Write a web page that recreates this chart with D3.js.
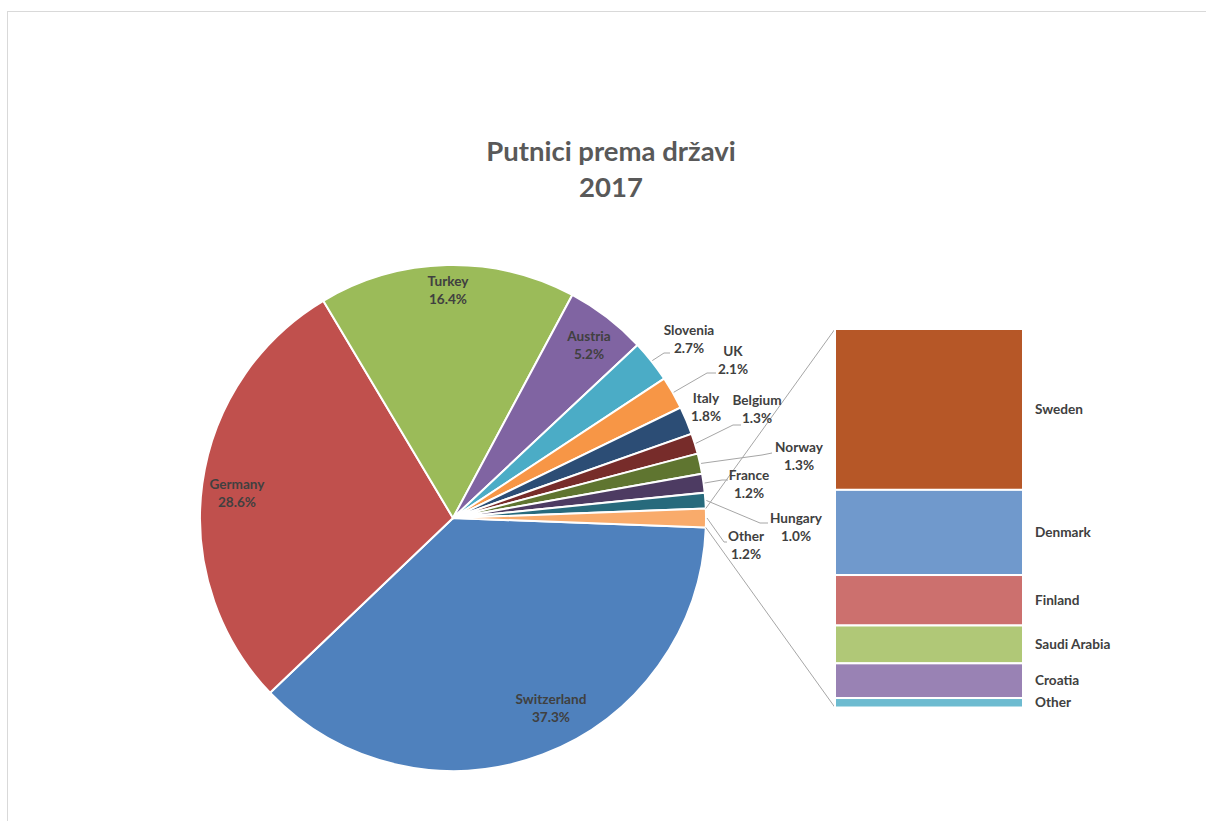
<!DOCTYPE html>
<html>
<head>
<meta charset="utf-8">
<script src="https://cdn.jsdelivr.net/npm/d3@7"></script>
<style>
  body { margin: 0; background: #fff; }
  text { font-family: Lato, "Open Sans", sans-serif; font-weight: bold; }
</style>
</head>
<body>
<div id="chart"></div>
<script>
// Data
const countries = ['Switzerland', 'Germany', 'Turkey', 'Austria', 'Slovenia', 'UK', 'Italy', 'Belgium', 'Norway', 'France', 'Hungary', 'Other']
const shares = [37.3, 28.6, 16.4, 5.2, 2.7, 2.1, 1.8, 1.3, 1.3, 1.2, 1.0, 1.2]
const pieColors = ['#4F81BD', '#C0504D', '#9BBB59', '#8064A2', '#4BACC6', '#F79646',
  '#2C4D75', '#772C2A', '#5F7530', '#4D3B62', '#276A7C', '#F9AB6B']

const otherCountries = ['Sweden', 'Denmark', 'Finland', 'Saudi Arabia', 'Croatia', 'Other']
const otherShares = [0.51, 0.27, 0.16, 0.12, 0.11, 0.03]
const barColors = ['#B65727', '#7099CC', '#CC706E', '#B0C877', '#9982B4', '#6DBBD0']

const titleLines = ['Putnici prema državi', '2017']

// Dimensions
const dimensions = {
  width: 1206,
  height: 821,
  cx: 453,
  cy: 518,
  r: 253,
  barX: 835,
  barW: 188,
  barTop: 329,
  barBottom: 707.5
}

// label anchors (center of the two-line block), layout only
const labelPos = {
  Switzerland: [551, 710], Germany: [237, 495], Turkey: [448, 292], Austria: [589, 347],
  Slovenia: [689, 341], UK: [733, 362], Italy: [706, 409], Belgium: [757, 411],
  Norway: [799, 458], France: [749, 486], Hungary: [796, 529], Other: [746, 547]
}
// where leader lines end, layout only
const leaderEnd = {
  Slovenia: [[664, 353], [670, 353]],
  UK: [[707, 373], [716, 373]],
  Belgium: [[733, 425], [741, 425]],
  Norway: [[762, 455], [772, 453]],
  France: [[722, 480], [728, 480]],
  Hungary: [[760, 523], [768, 523]],
  Other: [[724, 542], [727, 542]]
}

const svg = d3.select('#chart')
  .append('svg')
  .attr('width', dimensions.width)
  .attr('height', dimensions.height)

// chart area border
svg.append('rect')
  .attr('x', 7.5).attr('y', 11.5)
  .attr('width', 1220).attr('height', 830)
  .attr('fill', '#fff')
  .attr('stroke', '#d9d9d9')

// title
svg.append('text')
  .attr('x', 611)
  .attr('text-anchor', 'middle')
  .attr('fill', '#595959')
  .style('font-size', '27.5px')
  .selectAll('tspan')
  .data(titleLines)
  .join('tspan')
  .attr('x', 611)
  .attr('y', (d, i) => 161 + i * 36)
  .text(d => d)

// Pie: secondary ("Other") slice centered on the right horizontal
const total = d3.sum(shares)
const otherAngle = shares[shares.length - 1] / total * 2 * Math.PI
const start = Math.PI / 2 + otherAngle / 2

const pie = d3.pie().sort(null).startAngle(start).endAngle(start + 2 * Math.PI)
const arcs = pie(shares)
const arc = d3.arc().innerRadius(0).outerRadius(dimensions.r)

const ctr = svg.append('g')
  .attr('transform', `translate(${dimensions.cx}, ${dimensions.cy})`)

ctr.selectAll('path')
  .data(arcs)
  .join('path')
  .attr('d', arc)
  .attr('fill', (d, i) => pieColors[i])
  .attr('stroke', '#fff')
  .attr('stroke-width', 2)

const polar = (a, rr) => [dimensions.cx + rr * Math.sin(a), dimensions.cy - rr * Math.cos(a)]

// leader lines
const leaders = svg.append('g')
  .attr('fill', 'none')
  .attr('stroke', '#a6a6a6')
  .attr('stroke-width', 1)
arcs.forEach((d, i) => {
  const name = countries[i]
  if (!leaderEnd[name]) return
  const mid = (d.startAngle + d.endAngle) / 2
  const pts = [polar(mid, dimensions.r + 1), ...leaderEnd[name]]
  leaders.append('polyline').attr('points', pts.map(p => p.join(',')).join(' '))
})

// Bar of the "Other" slice
const y = d3.scaleLinear()
  .domain([0, d3.sum(otherShares)])
  .range([dimensions.barTop, dimensions.barBottom])
const cum = d3.cumsum(otherShares)
const stack = otherShares.map((v, i) => ({ name: otherCountries[i], y0: cum[i] - v, y1: cum[i] }))

// connector lines
const last = arcs[arcs.length - 1]
const pTop = polar(last.startAngle, dimensions.r)
const pBot = polar(last.endAngle, dimensions.r)
svg.append('g')
  .attr('stroke', '#a6a6a6')
  .attr('stroke-width', 1)
  .selectAll('line')
  .data([[pTop, [dimensions.barX, y(0)]], [pBot, [dimensions.barX, y(d3.sum(otherShares))]]])
  .join('line')
  .attr('x1', d => d[0][0]).attr('y1', d => d[0][1])
  .attr('x2', d => d[1][0]).attr('y2', d => d[1][1])

svg.append('g')
  .selectAll('rect')
  .data(stack)
  .join('rect')
  .attr('x', dimensions.barX)
  .attr('width', dimensions.barW)
  .attr('y', d => y(d.y0))
  .attr('height', d => y(d.y1) - y(d.y0))
  .attr('fill', (d, i) => barColors[i])
  .attr('stroke', '#fff')
  .attr('stroke-width', 2)

svg.append('g')
  .selectAll('text')
  .data(stack)
  .join('text')
  .attr('x', dimensions.barX + dimensions.barW + 12)
  .attr('y', d => (y(d.y0) + y(d.y1)) / 2 + 1)
  .attr('dominant-baseline', 'middle')
  .attr('fill', '#404040')
  .style('font-size', '13.6px')
  .text(d => d.name)

// pie labels
const labels = svg.append('g')
  .selectAll('text')
  .data(countries)
  .join('text')
  .attr('text-anchor', 'middle')
  .attr('fill', '#404040')
  .style('font-size', '13.6px')
labels.append('tspan')
  .attr('x', d => labelPos[d][0])
  .attr('y', d => labelPos[d][1] - 9)
  .attr('dominant-baseline', 'middle')
  .text(d => d)
labels.append('tspan')
  .attr('x', d => labelPos[d][0])
  .attr('y', d => labelPos[d][1] + 9)
  .attr('dominant-baseline', 'middle')
  .text((d, i) => shares[i].toFixed(1) + '%')
</script>
</body>
</html>
